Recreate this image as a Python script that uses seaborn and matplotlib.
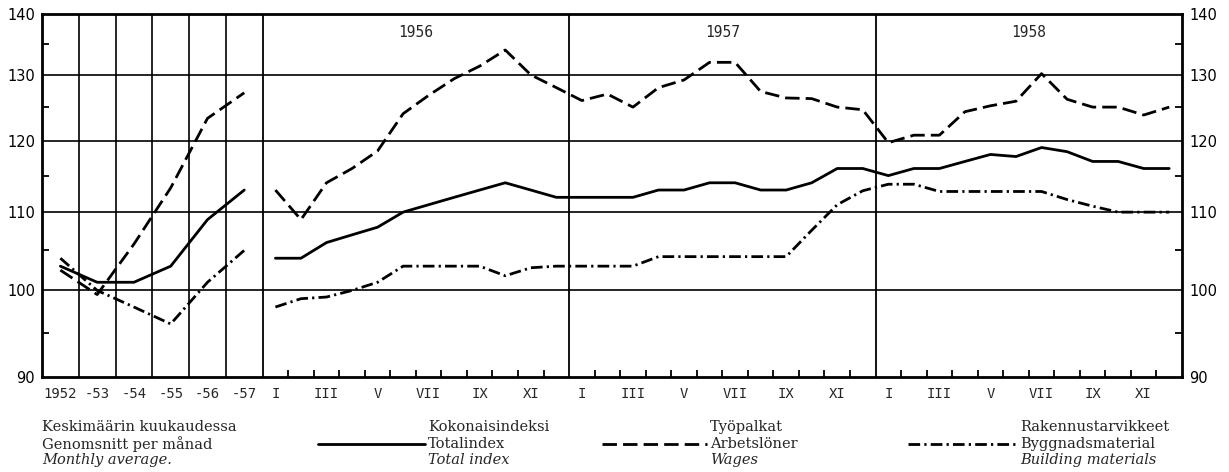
import numpy as np
import pandas as pd
import matplotlib
matplotlib.use('Agg')
import matplotlib.pyplot as plt
import seaborn as sns
from matplotlib.lines import Line2D
from matplotlib.ticker import FixedLocator, FixedFormatter, NullFormatter

# ---------------- data ----------------
years = ['1952', '-53', '-54', '-55', '-56', '-57']
annual_total = [103, 101, 101, 103, 109, 113]
annual_wages = [102.5, 99.5, 105.8, 113.3, 123.3, 127.2]
annual_build = [104, 100, 98, 96, 101, 105]

month_years = ['1956', '1957', '1958']
month_labels = ['I', '', 'III', '', 'V', '', 'VII', '', 'IX', '', 'XI', '']

monthly_total = [104, 104, 106, 107, 108, 110, 111, 112, 113, 114, 113, 112,
                 112, 112, 112, 113, 113, 114, 114, 113, 113, 114, 116, 116,
                 115, 116, 116, 117, 118, 117.7, 119, 118.4, 117, 117, 116, 116]
monthly_wages = [113, 109, 114, 116, 118.5, 124, 126.8, 129.4, 131.4, 134, 130, 128,
                 126, 127, 125, 128, 129.2, 132, 132, 127.4, 126.4, 126.3, 125, 124.6,
                 119.7, 120.8, 120.8, 124.3, 125.2, 125.9, 130.2, 126.2, 125, 125, 123.8, 125]
monthly_build = [98, 99, 99.2, 100, 101, 103, 103, 103, 103, 101.8, 102.8, 103,
                 103, 103, 103, 104.2, 104.2, 104.2, 104.2, 104.2, 104.2, 107.6, 111, 112.9,
                 113.8, 113.8, 112.8, 112.8, 112.8, 112.8, 112.8, 111.7, 110.8, 110, 110, 110]

series_names = ['total', 'wages', 'build']

# ---------------- build table ----------------
COL = 1.44                      # width of one annual column, in month units
n_a = len(years)
x_annual = (np.arange(n_a) + 0.5) * COL
x0 = n_a * COL
n_m = len(monthly_total)
x_month = x0 + np.arange(n_m) + 0.5

rows = []
for name, a_vals, m_vals in zip(series_names,
                                [annual_total, annual_wages, annual_build],
                                [monthly_total, monthly_wages, monthly_build]):
    for x, v in zip(x_annual, a_vals):
        rows.append(dict(x=x, value=v, series=name, section='annual'))
    for x, v in zip(x_month, m_vals):
        rows.append(dict(x=x, value=v, series=name, section='monthly'))
df = pd.DataFrame(rows)

# ---------------- figure ----------------
sns.set_theme(style='white')
plt.rcParams['font.family'] = ['DejaVu Sans']

W, H = 1229, 472
fig = plt.figure(figsize=(W / 100, H / 100), dpi=100)
ax = fig.add_axes([42 / W, 1 - 377 / H, 1140 / W, 363 / H])

dashes = {'total': '', 'wages': (5.2, 2.2), 'build': (4.2, 1.5, 0.8, 1.5)}
sns.lineplot(data=df, x='x', y='value', style='series', units='section',
             estimator=None, dashes=dashes, color='black', linewidth=2.0,
             legend=False, ax=ax, sort=False)

ax.set_yscale('log')
ax.set_ylim(90, 140)
ax.set_xlim(0, x0 + n_m)

yt = [90, 100, 110, 120, 130, 140]
ax.yaxis.set_major_locator(FixedLocator(yt))
ax.yaxis.set_major_formatter(FixedFormatter([str(v) for v in yt]))
ax.yaxis.set_minor_locator(FixedLocator([95, 105, 115, 125, 135]))
ax.yaxis.set_minor_formatter(NullFormatter())
ax.tick_params(axis='y', which='major', length=0, left=False, right=False,
               labelleft=True, labelright=True, pad=5, labelsize=10.5,
               labelcolor='black')
ax.tick_params(axis='y', which='minor', direction='in', length=5, width=1.3,
               left=True, right=True, color='black')

# x ticks
xt = list(x_annual)
xl = list(years)
for yi in range(len(month_years)):
    for mi, lab in enumerate(month_labels):
        if lab:
            xt.append(x0 + 12 * yi + mi + 0.5)
            xl.append(lab)
ax.xaxis.set_major_locator(FixedLocator(xt))
ax.xaxis.set_major_formatter(FixedFormatter(xl))
ax.xaxis.set_minor_locator(FixedLocator([x0 + k for k in range(1, n_m) if k % 12]))
ax.tick_params(axis='x', which='major', length=0, pad=7, labelsize=10)
ax.tick_params(axis='x', which='minor', direction='in', length=5, width=1.3,
               bottom=True, color='black')
for lab in ax.get_xticklabels():
    lab.set_family('DejaVu Sans Mono')
ax.set_xlabel('')
ax.set_ylabel('')

# grid and frame
for v in [100, 110, 120, 130]:
    ax.axhline(v, color='black', lw=1.2, zorder=1)
for k in range(1, n_a):
    ax.axvline(k * COL, color='black', lw=1.2, zorder=1)
for k in range(len(month_years)):
    ax.axvline(x0 + 12 * k, color='black', lw=1.3, zorder=1)
for s in ax.spines.values():
    s.set_visible(True)
    s.set_color('black')
    s.set_linewidth(2.0)

for k, yr in enumerate(month_years):
    ax.text(x0 + 12 * k + 6, 136.8, yr, ha='center', va='center',
            family='DejaVu Sans Mono', fontsize=10.5)

# ---------------- legend block ----------------
def ft(x, y, s, **kw):
    fig.text(x / W, 1 - y / H, s, va='center', ha='left',
             family='DejaVu Serif', fontsize=10.5, **kw)

rows_y = [427, 444, 460]
ft(42, rows_y[0], 'Keskimäärin kuukaudessa')
ft(42, rows_y[1], 'Genomsnitt per månad')
ft(42, rows_y[2], 'Monthly average.', style='italic')

legend_items = [
    (428, 318, 'total', ['Kokonaisindeksi', 'Totalindex', 'Total index']),
    (710, 602, 'wages', ['Työpalkat', 'Arbetslöner', 'Wages']),
    (1020, 908, 'build', ['Rakennustarvikkeet', 'Byggnadsmaterial', 'Building materials']),
]
for tx, lx, key, labs in legend_items:
    ft(tx, rows_y[0], labs[0])
    ft(tx, rows_y[1], labs[1])
    ft(tx, rows_y[2], labs[2], style='italic')
    ln = Line2D([lx / W, (tx - 3) / W], [1 - rows_y[1] / H] * 2,
                transform=fig.transFigure, color='black', lw=2.0)
    if dashes[key]:
        ln.set_dashes(dashes[key])
    fig.add_artist(ln)

fig.savefig('out.png', dpi=100, facecolor='white')
